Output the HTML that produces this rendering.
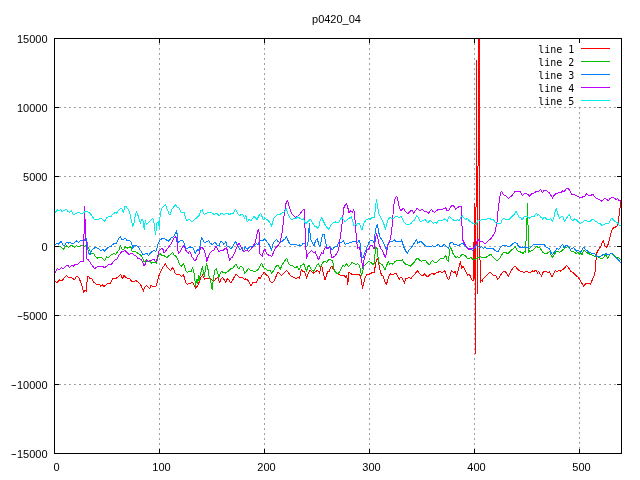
<!DOCTYPE html>
<html><head><meta charset="utf-8"><title>p0420_04</title>
<style>
html,body{margin:0;padding:0;background:#fff;}
body{width:640px;height:480px;overflow:hidden;}
svg{display:block;}
.t{font-family:"Liberation Sans",sans-serif;font-size:11px;fill:#000;}
.k{font-family:"DejaVu Sans Mono","Liberation Mono",monospace;font-size:10px;fill:#000;}
</style></head><body>
<svg width="640" height="480" viewBox="0 0 640 480">
<rect x="0" y="0" width="640" height="480" fill="#fff"/>
<g stroke="#a0a0a0" stroke-width="1" stroke-dasharray="2,3" shape-rendering="crispEdges" fill="none">
<line x1="54" y1="107.5" x2="622" y2="107.5"/>
<line x1="54" y1="176.5" x2="622" y2="176.5"/>
<line x1="54" y1="246.5" x2="622" y2="246.5"/>
<line x1="54" y1="315.5" x2="622" y2="315.5"/>
<line x1="54" y1="384.5" x2="622" y2="384.5"/>
<line x1="159.5" y1="38" x2="159.5" y2="454"/>
<line x1="264.5" y1="38" x2="264.5" y2="454"/>
<line x1="369.5" y1="38" x2="369.5" y2="454"/>
<line x1="474.5" y1="38" x2="474.5" y2="454"/>
<line x1="579.5" y1="107" x2="579.5" y2="454"/>
</g>
<g fill="none" stroke-width="1" stroke-linejoin="round" shape-rendering="crispEdges" clip-path="url(#c)">
<clipPath id="c"><rect x="54" y="38" width="568" height="416"/></clipPath>
<polyline stroke="#ff0000" points="54,281.5 55.25,281.88 57.12,282.5 59.62,279.75 62.12,281 64,278.12 66.5,275.25 69,278.12 70.88,277.5 72.75,278.12 74.62,280 75.88,276.88 77.12,276.25 79,278.12 80.88,282.5 82.12,286.25 83.75,292.5 85.25,290 86.25,291.25 87.5,276.25 89,276.88 90.25,278.75 91.5,278.12 93.38,281.88 95.88,284 97.75,284.38 99.62,284 100.88,286.25 102.12,284.75 104,286.5 106.5,284.38 109,283.12 110.25,283.75 112.12,279.38 113.38,278.12 115.25,278.75 117.12,277.5 119,276.25 120.62,274.38 122.5,278.75 124,275.25 125.88,277.5 127.75,278.5 129.62,278.12 131.5,281.25 134,281.25 135.88,280.62 137.75,281.88 139.62,283.75 141.5,286.25 143.38,291.25 144.62,287.5 146.5,285.62 148.38,287.5 149.62,288.75 150.88,285.62 152.75,286.25 155.88,286.25 157.12,282.5 158.38,277.5 159.62,273.75 160.88,271.25 162.75,267.5 164.62,265 165.62,263.75 167.12,267.5 169,268.75 170.88,270.62 172.5,267.5 174,270 175.25,273.75 177.12,274.38 179.62,274.75 181.5,276.25 183.38,274.75 184.62,278.12 185.88,283.12 187.12,284.38 189,283.75 190.88,283.12 192.5,282.5 194,285 195.5,288.12 197.12,286.25 198.38,284.38 199.62,280.62 200.88,277.5 202.5,275 203.75,276.88 204.62,279.38 206.5,278.12 209,278.12 210.88,278.75 212.75,280.62 214,281.25 215.88,278.75 217.75,277.5 219.62,282.5 221.5,278.12 222.75,277.5 224.62,280.62 225.88,282.5 227.12,278.75 229,280 230.88,283.12 232.75,280 234.62,276.25 235.88,274.38 237.75,275.62 239,276.88 240.88,277.5 242.75,277.5 244.62,280 245.88,278.75 247.75,280 249.62,283.12 250.88,285.62 252.75,282.5 254,281.88 255.88,283.12 257.75,279.38 259,277.5 260.25,278.75 262.12,275 263.38,273.12 264.62,272.5 266.5,275 268.38,276.25 270.25,281.25 272.12,283.12 274,281.25 275.88,276.88 277.75,272.5 279,273.12 281.5,275.62 283.38,273.75 285.25,271.88 286.5,270.62 288.38,272.5 290.25,275.62 292.12,276.25 294,277.5 295.88,278.75 297.75,277.5 299.62,278.12 300.88,271.25 301.75,269.38 302.75,271.88 304.62,271.25 306.5,278.12 307.75,274.38 309.62,270.62 311.5,271.25 313.38,273.12 315.25,271.88 317.12,270.62 318.38,271.25 319.62,273.12 320.88,267.5 321.75,265.62 323.38,273.75 325,280 326.5,275 327.75,271.25 329,271.88 330.88,266.88 332.12,266.25 333.38,269.38 334.62,271.25 336.5,273.12 338.38,274.38 340.25,275 342.12,275 344,275 345.88,277.5 346.75,275 347.75,285 348.75,272.5 350.25,273.12 352.12,274.38 354,275 355.88,274.38 357.75,275 359.62,274.38 360.88,278.12 362.5,288.12 363.75,283.12 365,278.12 366.5,275 368.38,274.38 370.25,273.75 372.12,272.5 374,272.5 375.25,266.25 376.5,259.38 377.75,258.12 379,265 380.25,271.25 381.5,275 383,275.62 384.62,280.62 386.25,285 387.75,280 389,275.62 390.88,273.75 392.75,275 394.62,273.75 396.25,273.12 397.75,276.88 399,279.38 400.88,276.88 402.12,278.12 403.38,280.62 404.38,283.12 405.88,278.12 407.75,278.12 409.62,277.5 410.88,278.75 412.75,276.25 414.62,274.38 416.5,271.88 417.75,270.62 419,273.12 420.88,275 422.75,275.62 424.62,273.75 426.5,276.25 428.38,276.25 430.25,274.38 432.12,273.12 434,274.38 435.88,273.12 437.75,272.5 439.62,271.25 441.5,272.5 443.38,271.88 444.62,270.62 445.88,273.75 447.12,277.5 448.75,280 450.25,275.62 451.25,270.62 452.75,271.88 454,273.12 455.25,271.25 456.5,276.25 458.38,270 459.62,265 460.5,261.25 461.5,268.12 462.75,266.25 464.62,268.75 466.5,273.12 467.5,275.19 469.38,274.56 470.31,275.81 471.25,278.62 472.5,280.5 473.5,280.5 473.5,242.5 474.5,241.5 474.5,203.5 474.5,278.5 475.5,279.5 475.5,353.5 475.5,207.5 476.5,206.5 476.5,60.5 476.5,176.5 477.5,177.5 477.5,293.5 477.5,166.5 478.5,165.5 478.5,38.5 479.5,38.5 479.5,259.5 480.5,260.5 480.5,282.5 480.94,280.19 482.19,281.44 483.44,278.31 485,276.75 487.5,274.25 490,272.38 491.25,273 493.12,275.19 495.62,275.19 496.88,277.38 497.81,279.25 499.62,276.88 501.5,273.75 503.38,271.88 504.62,271.25 506.5,273.12 508.38,276.25 510.25,272.5 512.12,269.38 514,266.88 515.25,266.25 517.12,268.75 519,270.62 520.88,271.25 522.75,271.88 524,272.5 525.88,271.25 527.75,271.88 529.62,272.5 531.5,271.88 532.75,270.62 534,271.88 534.69,270.81 535.94,270.19 536.88,271.44 537.5,273.31 538.44,271.44 539.38,272.69 540.62,274.56 541.56,276.44 542.5,273.62 543.44,271.44 544,271.12 545.88,271.75 547.75,272.38 549.62,271.75 550.88,274.88 552.12,276.75 554,273 555.25,270.5 557.12,271.75 558.38,270.5 560.25,271.12 562.12,269.88 564,268.62 565.25,267.38 566.5,265.25 567.75,266.75 569,268.62 570.88,271.75 572.75,272.38 574.62,274.25 576.5,276.12 578.38,277.38 580.25,280.5 582.12,283.62 583.75,286.12 585.25,284.25 587.12,283 589,283.62 590.25,284.25 591.5,281.75 592.75,278.62 594,276.12 595,271.75 595.5,265.5 596.25,258 597.12,251.75 598.38,249.88 599.62,248 600.88,246.12 602.12,243 603.38,240.5 604.25,244.25 605.25,246.75 606.5,247.38 607.75,245.5 608.75,241.75 609.62,238 610.88,233.62 612.12,229.25 613.38,228 615.25,227.38 617.12,225.62 618,223.12 618.75,218.75 619.62,211.25 620.5,203.75 621,200.5"/>
<polyline stroke="#00c000" points="54,246 55.25,246.25 57.75,246.88 59.62,246 61.5,247.5 63.38,249.38 65.25,246.88 66.5,246 68.38,247.5 70.25,246 72.12,245.62 74.62,247.5 76.5,245.62 78.38,246.88 80.25,246 82.12,245.25 84.62,246.25 86.5,245.62 88.38,247.5 90.25,251.25 91.5,253.75 93.38,253.12 95.25,256.25 97.12,258.12 99,257.5 101.5,257.5 103.38,259.38 104.62,260.62 106.5,256.88 108.38,257.5 110.25,255.62 112.12,254.38 114,253.75 115.88,254.38 117.75,251.25 119,250 120.5,245.62 122.12,249.38 123.38,250 125.25,246.88 127.12,248.12 129,247.5 130.88,246.88 132.12,251.25 134,251.88 135.88,251.88 137.75,253.12 139.62,254.38 141.5,255.62 142.75,258.75 144,261.88 145.25,261.25 146.5,260 147.75,261.88 149.62,261.25 151.5,263.12 153.38,262.5 155.25,262.5 156.5,263.12 157.75,258.12 159,254.38 160.25,253.75 161.5,255 163.38,255 165.25,256.88 167.12,257.5 169,255.62 170.88,254.38 172.5,252.5 174,255 175.88,256.25 177.75,259.38 179.62,264.38 181.5,266.25 183.38,263.75 184.62,266.88 185.88,270.62 187.12,272.5 189,271.25 190.88,271.88 192.5,267.5 193.75,271.25 194.62,276.25 195.5,286.25 196.5,280 197.5,283.12 198.38,275.62 199,281.25 200.25,275 201.5,270.62 202.5,266.25 203.38,272.5 204.38,276.25 205.25,270.62 206.5,263.75 207.75,267.5 208.75,275 209.62,278.12 210.88,281.88 212.12,289.38 213.12,281.25 214,275 215.25,269.38 216.25,268.75 217.5,272.5 219,277.5 220.25,273.12 221.5,271.25 223.38,272.5 225.25,273.12 227.12,271.88 229,270.62 230.88,268.75 232.75,268.12 234.62,265.62 235.88,264.38 237.75,267.5 239,268.75 240.25,266.25 242.12,266.88 243.38,268.12 244.62,273.75 246.5,271.25 248.38,268.75 250.25,270 252.12,270.62 254,271.88 255.88,271.25 257.75,270 259.62,266.88 261.5,263.12 262.75,266.25 264,268.12 265.88,268.75 267.75,270.62 269.62,270 271.5,273.12 273.38,271.25 275.25,267.5 277.12,265 278.38,265.62 280.25,269.38 282.12,265 284,261.88 285.25,260 286.5,258.12 288.38,262.5 289.62,265 291.5,265 294,266.88 295.88,267.5 297.12,266.25 299,270 300.88,265.62 302.75,264.38 304,263.75 305.25,267.5 306.5,271.25 307.75,266.88 309,265.62 310.88,268.75 312.75,270.62 314,271.25 315.88,266.88 317.12,264.38 318.38,263.75 320.25,266.88 321.5,265 323.38,261.88 325.25,261.25 326.5,262.5 328.38,260 330.25,259.38 332.12,260.62 333.38,263.75 334.25,270.62 335.88,272.5 337.75,273.75 339.62,271.88 341.25,268.12 342.75,265.62 344.62,266.25 346.5,263.75 348.38,266.88 350.25,265 352.12,262.5 354,263.75 355.88,264.38 357.75,263.75 359,265 360.25,268.75 361.5,275.62 362.5,272.5 363.75,266.25 365.25,264.38 367.12,263.12 369,261.25 370.88,262.5 372.75,264.38 374,263.75 375,253.75 375.88,246.88 377.12,248.75 377.75,255.62 378.75,261.88 380.25,263.75 382.12,264.38 383.75,267.5 385.25,270 386.5,265.62 388.38,261.88 389.62,264.38 391.5,263.12 392.75,264.38 394.62,261.88 396.5,260.62 398.38,260.62 400.25,260.62 402.5,260 404,262.5 405.88,264.38 407.75,265 410.25,266.25 412.12,264.38 414,262.5 415.88,259.38 417.75,258.12 419.62,260 421.25,261.25 423.38,260.62 425.25,260 426.5,261.88 428.38,263.75 429.62,265 430.88,261.88 432.5,260.62 434,261.88 435.88,263.12 437.75,261.25 439.62,259.38 441.5,258.12 443.38,258.75 444.62,256.88 445.88,255.62 447.12,260 448.38,261.88 449.38,252.5 450.25,247.5 451.5,248.75 452.75,253.12 454,255 455.88,257.5 457.75,256.88 459.62,257.5 461.5,255 463.38,254.38 465.25,255.62 467.12,258.12 469,258.75 470.88,256.88 472.75,259.38 474.62,259.38 476.5,258.75 478.38,257.5 480.25,256.88 482.12,257.5 484,256.88 485.88,257.5 487.75,256.25 489.62,255 490.88,254.38 492.75,256.88 494.62,258.75 496.5,260.62 498.38,260 500.25,257.5 502.12,254.38 504,251.88 505.88,252.5 507.75,253.75 509.62,251.88 511.5,250 513.38,248.75 515.25,246.88 516.5,249.38 518.38,251.25 520.25,251.88 521.56,252.44 523.12,253.38 524.69,251.5 525.5,252.5 525.5,241.5 526.5,240.5 526.5,218.5 527.5,217.5 527.5,203.5 527.5,224.5 528.5,225.5 528.5,252.5 529.06,250.25 530,251.5 531.56,250.56 533.44,249.62 535,248.06 536.56,246.19 537.81,247.44 539.38,247.44 540.62,249 541.88,250.88 543.12,252.75 545,253.38 546.88,253.38 548.75,252.12 550,251.5 550.88,254.88 552.5,257.38 554,254.88 555.25,253 557.12,251.12 558.38,251.75 559.62,252.38 561.5,251.12 563.38,249.25 565.25,248 567.12,246.75 568.38,247.38 569.62,248.62 570.88,251.12 572.75,251.12 574.62,252.38 576.5,253.62 577.75,252.38 579.62,254.25 580.88,252.38 582.12,254.88 583.38,251.12 584.62,250.5 586.5,252.38 588.38,253.62 590.25,254.25 592.12,254.88 594,256.12 595.88,256.75 597.75,256.75 599.62,258 601.5,258 603.38,258 605.25,254.88 606.5,255.5 607.75,258.62 609,256.12 610.25,253.62 612.12,253.62 613.38,254.88 615.25,256.75 617.12,257.38 619,258 621,260.25"/>
<polyline stroke="#0080ff" points="54,245.62 55.25,245 57.12,243.12 58.38,244.38 59.62,242.75 61.25,241.25 62.75,245 64.62,245.25 66.5,242.5 68.38,243.12 70.25,242.25 71.5,244 73,243.75 74.62,242.5 76.5,241 78.38,242.25 80.25,241 82.12,240 84,240.62 85.88,238.5 86.75,238.75 87.5,247.5 89,253.75 90.25,254.38 91.5,250.62 93.38,248.75 95.25,247.5 97.12,248.12 99,248.75 100.88,250.62 102.75,249.38 104.62,251.25 106.5,248.75 109,246.88 110.88,246.5 112.75,244.38 114.62,243.5 115.88,244 117.75,240.62 119,238.12 120.25,236.5 122.12,240 123.38,239.38 125.25,238.12 127.12,240.62 129,240 130.5,241.25 131.75,243.75 132.75,248.75 134,245 136.5,246 138.38,246.25 139.62,249.38 141.5,251.88 143.38,255 145.25,253.75 147.12,253.75 148.38,255.62 150.25,253.12 152.12,251.25 154,250.62 155.88,251.25 157.12,247.5 158.38,243.12 159.62,240.62 160.88,239.38 162.75,238.12 164.62,238.75 166.5,240 169,241.25 170.88,238.12 172.75,237.5 174.62,235 176.5,230.62 177.5,236.25 178,242.5 179.62,241.25 181.5,240.62 183.38,241.25 184.62,245 186.5,248.75 189,247.5 190.88,246.88 192.75,247.5 194,250 195.25,253.12 196.5,251.25 197.75,249.38 199,250.62 200.25,245 201.5,237.5 202.75,239.38 204,241.88 205.25,242.5 207.12,241.25 209,240.62 210.25,243.12 212.12,244.38 214,243.12 215.25,242.5 217.12,245 219,245.62 220.88,241.25 222.12,241.88 224,244.38 225.88,241.25 227.12,246.25 229,246.88 230.88,248.75 232.75,246.88 234.62,243.12 235.5,241.25 237.12,245 239,248.12 240.25,250 242.12,247.5 243.38,251.25 245.25,246.88 247.12,249.38 249,247.5 250.88,246.25 252.75,246.88 254.62,245.62 256.5,243.75 258.38,245 259.62,240 261.5,240 263.38,240.62 264.62,238.75 266.5,241.25 268.38,243.12 270.25,246.88 271.5,250 272.75,244.38 274.62,241.25 276.5,239.38 278.38,241.88 280.25,242.5 282.12,241.25 284,239.38 285.25,238.75 286.5,236.88 287.75,240 289.62,243.75 291.5,244.38 294,245 295.88,244.38 297.75,245.62 299.62,245 301.5,245.62 303.38,243.12 304.62,243.12 305.88,246.88 307.5,245.62 308.38,240 309.25,223.12 310,232.5 310.88,240 312.75,243.75 314,245.62 315.88,240 317.12,238.75 318.38,242.5 319.62,246.88 320.88,242.5 322.5,235 324,234.38 325.25,240 326.5,246.25 327.75,248.75 329.62,246.88 330.88,247.5 332.12,250 334,247.5 335.88,246.25 337.12,246.88 338.38,243.12 339.62,241.25 340.88,243.12 342.12,241.88 343.38,240.62 345.25,244.38 347.12,243.75 349,243.12 350.88,242.5 352.75,241.88 354.62,241.25 356.5,241.25 357.75,242.5 359,240 360,243.12 360.88,251.25 362.12,258.12 363.38,257.5 364.62,252.5 366.5,248.75 368.38,243.75 369.62,241.25 371.5,240.62 373.38,241.25 374,242.5 375.25,232.5 376.5,225.62 377.5,224.38 378.38,230.62 379.62,236.25 381.5,239.38 383.38,242.5 385.25,246.25 386.25,249.38 387.75,245 389,242.5 390.88,241.25 392.75,241.25 394.62,240 396.5,241.88 398.38,241.25 400.25,241.88 401.5,240 402.75,243.75 404,247.5 405.88,251.25 407.38,253.12 409,250 410.88,248.12 412.75,245.62 414.62,242.5 416.5,239.38 417.75,243.12 419,242.5 420.25,241.25 422.12,242.5 424,244.38 425.25,245.62 427.12,246.88 429,246.25 430.88,246.88 432.75,245.62 434.62,246.88 436.5,245.62 438.38,244.38 440.25,246.88 442.12,246.25 444,244.38 445.25,245 447.12,246.88 448.75,248.75 449.62,243.75 450.88,242.5 452.75,242.5 454,244.38 455.88,244.38 457.75,245.62 459.62,245 461.5,243.75 462.75,243.12 464,245 465.88,246.88 467.75,248.12 469.62,249.38 471.5,249.38 472.75,250.62 474.62,248.12 476.5,245 477.75,245.62 479.62,247.5 481.5,246.88 483.38,248.12 485.25,247.5 487.12,248.75 489,248.12 490.88,248.75 492.75,248.12 494.62,250 496.5,251.25 498.38,251.25 499.62,248.12 501.5,246.25 503.38,245.62 505.25,245 507.12,246.25 509,246.88 510.88,245.62 512.75,243.75 515.25,242.5 517.12,243.75 518.38,246.25 520.25,247.5 522.12,246.88 524,247.5 525.88,246.88 527.75,247.5 529.62,248.12 531.5,246.25 534,244.38 544,244.25 545.88,246.75 547.75,248 549.62,248.62 550.88,252.38 552.5,254.88 554,252.38 555.88,250.5 557.12,248 558.38,249.88 559.62,248.62 561.5,245.5 562.75,244.25 564,247.38 565.25,246.12 567.12,244.88 569,246.75 570.25,249.25 572.12,248.62 573.38,247.38 574.62,249.25 576.5,251.12 578.38,250.5 580.25,252.38 581.5,251.12 583,248 584,247.38 585.25,249.88 587.12,250.5 589,252.38 590.88,253 592.75,253.62 594.62,253.62 595.88,255.5 597.12,256.75 599,256.75 600.88,256.12 602.75,254.88 604.62,254.25 605.88,253.62 607.75,254.88 609,254.25 610.88,253.62 612.12,253.62 613.38,255.5 615.25,257.38 617.12,258.62 619,260.5 621,263"/>
<polyline stroke="#c000ff" points="54,273.12 55.25,272.5 57.12,268.75 59.62,269.38 61.5,267.75 63.38,268.75 65.88,266 67.75,265 69.62,267.75 71.5,265.62 73.38,266.25 75.25,264.38 77.12,265 79,263.12 80.88,261.5 83,261.25 83.5,261.5 83.5,234.5 84.5,233.5 84.5,206.5 84.5,218.5 85.5,219.5 85.5,240.5 86.5,241.5 86.5,258.5 88.38,260 90.25,262.5 92.75,266.25 94.62,268.5 97.12,266.88 99.62,266.25 102.12,266.25 104.62,267.75 106.5,266.25 109,264.38 110.88,265 112.75,262.5 115.25,260 117.12,258.75 119,255 121.5,251.88 123.38,251.25 125.25,250.62 127.12,252.5 129,255 130.88,253.12 132.75,253.75 134,255 135.88,255.62 137.75,258.12 139.62,258.75 141.5,260 142.75,261.88 143.75,265.62 145.25,264.38 146.5,260.62 148.38,261.25 150.25,260.62 152.12,260 154,259.38 155.25,261.88 156.5,261.25 157.75,256.25 159,251.25 160.25,249.38 162.12,248.12 163.38,250 164,253.12 165.88,250.62 167.75,248.12 169.62,245.62 171.5,243.12 173.38,239.38 175.25,236.25 176.5,238.12 177.12,242.5 177.75,250 178.75,253.75 180.25,251.25 182.12,247.5 184,245.62 185.25,248.12 186.5,251.88 188.38,253.12 189.62,251.25 190.88,253.75 192.12,256.88 194,260 195.25,260.62 196.5,258.75 197.75,255 199,253.75 199.88,250.62 200.88,246.88 202.75,248.12 204.62,251.25 205.88,256.88 206.88,261.25 207.75,258.12 209,255 210.88,251.88 212.75,250.62 214,250 215.88,246.25 217.12,248.12 219,251.88 220.88,250 222.75,250.62 224.62,248.75 226.5,247.5 227.75,252.5 229.62,260.62 230.88,258.12 232.75,256.88 234,254.38 235.88,249.38 237.75,245 239,243.5 240.25,245 241.5,248.12 243.38,251.88 245.25,250.62 247.12,250 248.38,251.25 250.25,250 252.12,247.5 253.38,245.62 255.25,242.5 256.5,236.25 257.75,230 258.75,229.38 259.62,237.5 260,253.75 262.12,256.25 263.38,251.25 265.25,249.38 266.5,253.75 268.38,255 270.25,255.62 271.88,256.25 273.38,252.5 275.25,248.75 276.5,246.88 278.38,245 280.25,241.25 281.5,236.25 282.75,227.5 283.75,217.5 284.62,212.5 285.88,203.75 287.5,200.62 288.75,205 290.25,210 292.12,214.38 294,216.25 295.88,217.5 297.75,216.25 299.62,214.38 301.5,211.88 303.38,209.38 304.38,210 305,227.5 305.62,242.5 306.5,258.75 307.75,254.38 309.62,252.5 311.5,250.62 313.38,252.5 315.25,251.88 317.12,256.25 318.62,260 320.25,255.62 321.5,252.5 323,253.75 324.62,248.12 325.88,247.5 327.12,248.75 329,246.88 330.25,248.12 330.88,253.75 332.12,258.12 333.75,256.88 335.25,255.62 337.12,253.12 338.38,250.62 339.25,245 340.25,237.5 341.5,228.75 342.75,217.5 344,207.5 345.25,205 346.5,203.5 347.75,207.5 349,212.5 350.88,210.62 352.12,212.5 353.75,209.75 354.62,215 355.5,226.25 356.5,240 357.5,248.75 359,246.88 360.25,251.25 361.5,260 362.75,268.12 363.75,261.88 364.62,256.88 365.88,253.75 367.12,250 369,248.75 370.25,245 372.12,245.62 374,248.75 374,248.75 375.25,240 376.5,233.75 377.75,237.5 379,243.75 380.88,248.75 382.75,251.25 384.25,255 385.5,257.5 386.5,253.12 387.75,245.62 389.62,241.25 390.88,236.25 392.12,226.25 392.75,217.5 393.75,206.25 394.62,200 395.88,196.88 396.75,196.25 397.75,199.38 399,206.25 400.25,210 401.5,210 403.38,208.12 404.62,210.62 406.25,212.5 407.5,213.75 409,212.5 410.88,210.62 412.12,210.62 413.75,213.12 415.25,210.62 417.12,208.5 419,210 420.88,210 422.12,209.38 424,211.25 425.88,211.88 427.12,211.88 428.75,213.12 430.25,210.62 431.5,209.38 432.75,211.25 434.62,212.5 436.5,210.62 438.38,209.38 440.25,209.38 442.12,209.38 444,208.75 445.5,207.5 447.12,210.62 448.75,210.62 450.25,207.5 452.12,205 454,206.25 455.88,209.38 457.75,207.5 459.62,206 461.25,206.88 461.75,215 462.12,230 462.75,240 464,242.5 465.25,245 467.12,248.12 469,249.38 470.88,248.12 472.75,248.75 474.62,246.88 476.25,243.75 477.75,239.38 479,240.62 480.25,241.88 482.12,241.25 484,243.12 485.25,243.75 487.12,241.88 489,240 490.88,238.75 492.12,236.88 493.75,234.38 495,231.88 495.88,227.5 497.12,221.25 497.75,213.75 498.75,205 499.62,198.75 500.5,193.12 501.5,191.25 502.75,193.75 504.62,195.62 506.5,196.25 508.38,198.75 510.25,196.88 511.5,196.25 512.75,194.38 514.62,191.88 516.5,191.25 518.38,191.88 520.25,191.25 522.12,195.62 524,193.75 525.88,193.12 527.75,194.38 529.62,196.25 531.5,193.75 534,193.12 536.25,191.38 538.75,191.38 540.31,189.38 541.25,190.62 542.5,192.5 544,190.62 545.88,190 547.75,191.88 549.62,193.12 551.5,196.25 552.5,198.12 554,195.62 555.88,193.75 557.75,193.12 559,191.88 560.88,193.12 562.75,190.62 564,191.88 565.25,190 567.12,188.12 569,189.38 570.25,191.25 571.5,194.38 574,194.38 575.88,195.62 577.75,196.25 579.62,197.5 580.88,198.12 582.75,196.88 584.62,196.25 586.5,193.75 587.75,195 589.62,195 591.5,195 593.38,194.75 594.62,196.88 596.5,198.12 598.38,199.38 600.25,200 601.75,201.25 603.38,199.38 604.62,198.12 606.5,199.38 608.38,200.62 610.25,198.12 612.12,197.5 614,197.75 615.88,199.38 617.75,198.75 619,200.62 621,201.5"/>
<polyline stroke="#00eeee" points="54,212.75 55.25,212.5 57.12,209.75 59,211 60.25,209.38 62.12,211.5 64,210.62 66.5,209.38 67.75,211.25 69.62,212.5 71.25,210.62 72.75,214 74.62,214.38 76.5,213.12 79,212.5 80.88,213.38 83.38,212.88 85.25,211.5 87.12,211.25 89.62,213.12 91.5,215 94,219 96.5,219.75 98.38,220 99.62,218.5 101.5,218.12 103,220 104.62,221.25 106.5,218.12 109,216.25 110.88,216.5 112.75,214.38 115.25,212.5 116.5,213.5 117.75,211.25 119.62,209.38 121.5,208.12 123.38,212.5 124.62,206.88 125.88,206.25 127.75,208.75 129,211.25 130.25,215 131.5,221.25 132.75,226.25 134,223.12 135.25,215 136.5,211.88 138.38,216.25 140.25,223.12 141.5,220 142.75,219.38 144.25,230 145.25,220.62 146.5,224.38 148.38,222.5 150.25,220.62 152.75,218.12 154,222.5 155.5,234.38 157.12,222.5 158.38,221.88 159.38,228.75 160.25,213.12 162.12,208.12 164,206 165.62,204.75 167.5,210 169,213.75 170.25,215 171.5,210 173.38,207.5 175.5,204.75 177.12,207.5 179,208.12 180.88,211.88 182.12,213.12 184,211.88 185.88,218.75 187.12,220.62 189,219.38 190.88,221 192.5,221.25 194.62,219.38 196.5,218.12 199,215.62 200.88,210.62 202.12,209.75 203.38,213.12 204.62,214.38 206.5,213.12 209,212.5 211.5,212.5 214,214.38 215.88,213.75 217.12,213.12 219,216.25 220.88,213.75 222.12,213.12 224,215 225.88,213.12 227.75,213.12 229.62,215 231.5,213.12 233.38,213.12 235.25,209.38 236.5,210.62 238.38,214.38 239.62,215.62 241.5,214.38 242.75,214.38 244.62,218.12 245.88,215.62 247.12,221.88 249,219.38 250.88,220.62 252.75,218.12 254.25,216.25 255.88,218.75 257.12,219.38 259,215.62 260.5,213.12 262.12,216.88 263.38,220 264.62,217.5 266.5,219.38 268.38,220.62 269.62,222.5 271.5,226.25 272.75,221.88 274,218.12 275.88,216.25 277.75,214.38 279,215 280.88,213.75 282.75,212.5 284.62,211.88 286.25,208.75 287.75,213.12 289,216.25 290.5,218.75 292.12,220 294,218.12 295.88,218.75 297.75,216.88 299.62,218.12 301.5,219.38 303.38,218.75 304.62,221.88 305.88,223.75 307.75,221.88 309.62,220 310.88,219.38 312.75,223.12 314.62,226.25 316.25,226.88 317.75,228.12 319,226.25 320.25,220 321.75,217.5 323.38,221.25 325.25,225 327.12,227.5 328.75,229.38 330.25,226.88 331.5,224.38 333.38,222.5 335.25,221.88 337.12,223.12 339,221.88 340.5,219.38 342.12,216.88 343.38,219.38 345.25,221.88 346.5,220.62 348.38,218.75 350.25,217.5 351.5,216.88 352.75,221.25 354,226.25 355.25,224.38 356.5,225 357.75,223.12 359.62,223.75 360.88,227.5 362.12,230 363.38,225 364.62,221.88 366.5,219.38 368.38,218.75 370.25,219.38 372.12,216.88 374,218.12 375.25,210 376.5,199.38 377.75,207.5 379,213.75 380.88,217.5 382.75,221.25 384,224.38 385.5,229.38 386.5,224.38 387.75,220.62 389.62,217.5 391.5,218.12 393.38,218.75 395.25,216.88 397.12,216.25 399,218.12 400.88,216.25 402.12,218.12 404,221.88 405.88,223.75 407.12,225 409,224.38 410.88,223.75 412.75,221.25 414.62,220 416.5,215.62 417.75,216.88 419,219.38 420.88,221.88 422.75,220.62 425.25,219.38 426.5,221.25 428,223.12 429.62,220.62 431.5,221.25 433.38,223.12 435.25,222.5 436.5,223.12 438.38,220.62 440.25,220 442.12,220.62 444,218.75 445.25,219.38 447.12,221.25 448.38,218.12 449.62,216.25 451.5,218.75 453.38,220 454,220 455.88,220.62 457.75,219.38 459,221.25 460.25,218.12 462.12,215.62 464,218.12 465.88,220 467.12,218.12 469,220.62 470.88,221.88 472.75,223.12 474.62,223.75 476.25,224.38 477.5,221.25 478.38,219.38 480.25,220.62 482.12,219.38 484,220 485.88,219.38 487.75,218.75 489.62,218.12 491.5,220 493.38,219.38 495.25,222.5 497.12,223.75 499,223.75 500.88,223.12 502.12,220 503.38,218.12 505.25,219.38 507.12,219.38 509,219.38 510.88,217.5 512.75,215.62 514.62,213.75 516.12,211.25 517.75,214.38 519,216.88 520.88,218.12 522.12,220 524,216.88 525.88,216.25 527.75,216.88 529.62,218.12 531.5,216.25 534,216.88 535.31,214.69 536.56,213.12 537.5,215 538.75,214.38 540.62,217.19 541.88,217.5 542.5,219.38 544,217.5 545.88,218.12 547.12,220 549,219.38 550.88,218.75 552.5,221.88 554,216.88 555.25,210.62 556.25,208.12 557.12,211.88 558.38,215.62 559.62,218.12 561.5,216.88 562.75,216.25 564.62,221.25 566.5,218.12 568.38,215.62 569.62,215 570.88,218.75 572.75,220.62 574.62,218.75 576.5,220 578.38,221.88 580.25,223.12 582.12,222.5 584,221.25 585.88,220 587.75,221.88 589.62,221.88 591.5,220 592.75,219.38 594.62,220.62 596.5,221.88 598.38,223.12 600.25,223.75 602.12,225.62 604,224.38 605.88,223.75 607.75,223.75 609,223.12 610.25,220 611.5,218.12 613.38,220 615.25,221.88 617.12,222.5 619,225 621,226"/>
</g>
<g shape-rendering="crispEdges" stroke-width="1">
<line x1="581" y1="48.5" x2="610" y2="48.5" stroke="#ff0000"/>
<line x1="581" y1="61.5" x2="610" y2="61.5" stroke="#00c000"/>
<line x1="581" y1="74.5" x2="610" y2="74.5" stroke="#0080ff"/>
<line x1="581" y1="87.5" x2="610" y2="87.5" stroke="#c000ff"/>
<line x1="581" y1="100.5" x2="610" y2="100.5" stroke="#00eeee"/>
</g>
<text class="k" x="574.4" y="53" text-anchor="end">line 1</text>
<text class="k" x="574.4" y="66" text-anchor="end">line 2</text>
<text class="k" x="574.4" y="79" text-anchor="end">line 3</text>
<text class="k" x="574.4" y="92" text-anchor="end">line 4</text>
<text class="k" x="574.4" y="105" text-anchor="end">line 5</text>
<g stroke="#000" stroke-width="1" shape-rendering="crispEdges" fill="none">
<rect x="54.5" y="38.5" width="567" height="415"/>
<line x1="54" y1="107.5" x2="59" y2="107.5"/>
<line x1="617" y1="107.5" x2="622" y2="107.5"/>
<line x1="54" y1="176.5" x2="59" y2="176.5"/>
<line x1="617" y1="176.5" x2="622" y2="176.5"/>
<line x1="54" y1="246.5" x2="59" y2="246.5"/>
<line x1="617" y1="246.5" x2="622" y2="246.5"/>
<line x1="54" y1="315.5" x2="59" y2="315.5"/>
<line x1="617" y1="315.5" x2="622" y2="315.5"/>
<line x1="54" y1="384.5" x2="59" y2="384.5"/>
<line x1="617" y1="384.5" x2="622" y2="384.5"/>
<line x1="159.5" y1="449" x2="159.5" y2="454"/>
<line x1="159.5" y1="38" x2="159.5" y2="43"/>
<line x1="264.5" y1="449" x2="264.5" y2="454"/>
<line x1="264.5" y1="38" x2="264.5" y2="43"/>
<line x1="369.5" y1="449" x2="369.5" y2="454"/>
<line x1="369.5" y1="38" x2="369.5" y2="43"/>
<line x1="474.5" y1="449" x2="474.5" y2="454"/>
<line x1="474.5" y1="38" x2="474.5" y2="43"/>
<line x1="579.5" y1="449" x2="579.5" y2="454"/>
<line x1="579.5" y1="38" x2="579.5" y2="43"/>
</g>
<text class="t" x="47.5" y="43" text-anchor="end">15000</text>
<text class="t" x="47.5" y="112" text-anchor="end">10000</text>
<text class="t" x="47.5" y="181" text-anchor="end">5000</text>
<text class="t" x="47.5" y="251" text-anchor="end">0</text>
<text class="t" x="47.5" y="320" text-anchor="end"><tspan textLength="6.1" lengthAdjust="spacingAndGlyphs" dy="-0.7">-</tspan><tspan dy="0.7">5000</tspan></text>
<text class="t" x="47.5" y="389" text-anchor="end"><tspan textLength="6.1" lengthAdjust="spacingAndGlyphs" dy="-0.7">-</tspan><tspan dy="0.7">10000</tspan></text>
<text class="t" x="47.5" y="458" text-anchor="end"><tspan textLength="6.1" lengthAdjust="spacingAndGlyphs" dy="-0.7">-</tspan><tspan dy="0.7">15000</tspan></text>
<text class="t" x="56.5" y="471" text-anchor="middle">0</text>
<text class="t" x="161.5" y="471" text-anchor="middle">100</text>
<text class="t" x="266.5" y="471" text-anchor="middle">200</text>
<text class="t" x="371.5" y="471" text-anchor="middle">300</text>
<text class="t" x="476.5" y="471" text-anchor="middle">400</text>
<text class="t" x="581.5" y="471" text-anchor="middle">500</text>
<text class="t" x="336.5" y="23" text-anchor="middle">p0420_04</text>
</svg>
</body></html>
